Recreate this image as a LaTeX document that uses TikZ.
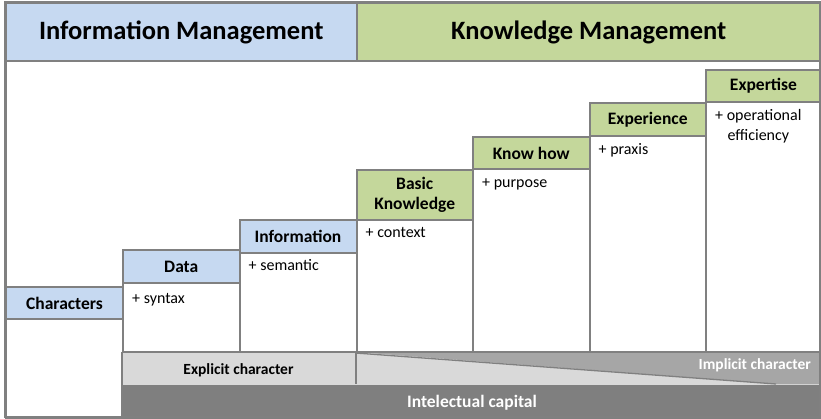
\documentclass[tikz,border=0pt]{standalone}
\usepackage{fontspec}
\setmainfont{Carlito}
\definecolor{frame}{HTML}{808080}
\definecolor{imblue}{HTML}{C6D9F1}
\definecolor{kmgreen}{HTML}{C4D79B}
\definecolor{lightband}{HTML}{D9D9D9}
\definecolor{midband}{HTML}{A6A6A6}
\definecolor{darkband}{HTML}{7F7F7F}
\tikzset{
  box/.style={draw=frame, line width=2pt, rectangle, inner sep=0pt, anchor=north west},
  title/.style={box, fill=#1, font=\fontsize{26.5}{30}\selectfont\bfseries},
  stephead/.style={box, fill=#1, font=\fontsize{17.5}{20.5}\selectfont\bfseries, align=center},
  stepbody/.style={box, fill=white},
  note/.style={inner sep=0pt, anchor=base west, font=\fontsize{16}{20}\selectfont, align=center},
  bandtext/.style={inner sep=0pt, font=\fontsize{15.5}{18}\selectfont\bfseries},
}
\begin{document}
\begin{tikzpicture}[x=1pt,y=-1pt]
\useasboundingbox (0,0) rectangle (821,419);
\fill[white] (0,0) rectangle (821,419);
% outer frame
\node[box, minimum width=815pt, minimum height=415pt] (frame) at (5,2) {};
% headers
\node[title=imblue, minimum width=350.5pt, minimum height=58pt] (im) at (5,2) {Information Management};
\node[title=kmgreen, minimum width=464.5pt, minimum height=58pt] (km) at (355.5,2) {Knowledge Management};
% column bodies
\node[stepbody, minimum width=117pt, minimum height=99pt] (charb) at (5,318) {};
\node[stepbody, minimum width=116.5pt, minimum height=70pt] (datab) at (122,282) {};
\node[stepbody, minimum width=117pt, minimum height=100pt] (infob) at (238.5,252) {};
\node[stepbody, minimum width=116.5pt, minimum height=133pt] (bkb) at (355.5,219) {};
\node[stepbody, minimum width=116.5pt, minimum height=184pt] (khb) at (472,168) {};
\node[stepbody, minimum width=116.5pt, minimum height=216.5pt] (expb) at (588.5,135.5) {};
\node[stepbody, minimum width=115pt, minimum height=251pt] (xpb) at (705,101) {};
% step headers
\node[stephead=imblue, minimum width=117pt, minimum height=32pt] (char) at (5,286) {Characters};
\node[stephead=imblue, minimum width=116.5pt, minimum height=32.5pt] (data) at (122,249.5) {Data};
\node[stephead=imblue, minimum width=117pt, minimum height=33pt] (info) at (238.5,219) {Information};
\node[stephead=kmgreen, minimum width=116.5pt, minimum height=50pt] (bk) at (355.5,169) {Basic\\Knowledge};
\node[stephead=kmgreen, minimum width=116.5pt, minimum height=32pt] (kh) at (472,136) {Know how};
\node[stephead=kmgreen, minimum width=116.5pt, minimum height=33.5pt] (exper) at (588.5,102) {Experience};
\node[stephead=kmgreen, minimum width=115pt, minimum height=32pt] (xpert) at (705,69) {Expertise};
% notes
\node[note] (n1) at ([xshift=10pt,yshift=-22pt]datab.north west) {+ syntax};
\node[note] (n2) at ([xshift=10pt,yshift=-19pt]infob.north west) {+ semantic};
\node[note] (n3) at ([xshift=10pt,yshift=-19pt]bkb.north west) {+ context};
\node[note] (n4) at ([xshift=10pt,yshift=-20pt]khb.north west) {+ purpose};
\node[note] (n5) at ([xshift=10pt,yshift=-19pt]expb.north west) {+ praxis};
\node[note] (n6) at ([xshift=10pt,yshift=-40pt]xpb.north west) {+ operational\\efficiency};
% bottom bands
\node[box, draw=none, fill=lightband, minimum width=698pt, minimum height=32pt] (band) at (122,352) {};
\fill[midband] (355.5,352) -- (820,352) -- (820,384) -- (776,384) -- cycle;
\draw[frame, line width=1.3pt] (355.5,353) -- (776,384);
\draw[frame, line width=2pt] (355.5,352) -- (355.5,384);
\draw[frame, line width=2pt] (122,352) -- (820,352);
\node[box, draw=none, fill=darkband, minimum width=698pt, minimum height=35pt] (capital) at (122,384) {};
\draw[frame, line width=2pt] (122,352) -- (122,419);
\node[bandtext] (expl) at (238.5,370) {Explicit character};
\node[bandtext, text=white, anchor=east] (impl) at (811,365) {Implicit character};
\node[bandtext, text=white, font=\fontsize{17.5}{20}\selectfont\bfseries] (cap) at (capital.center) {Intelectual capital};
\draw[frame, line width=2pt] (5,2) rectangle (820,417);
\end{tikzpicture}
\end{document}
